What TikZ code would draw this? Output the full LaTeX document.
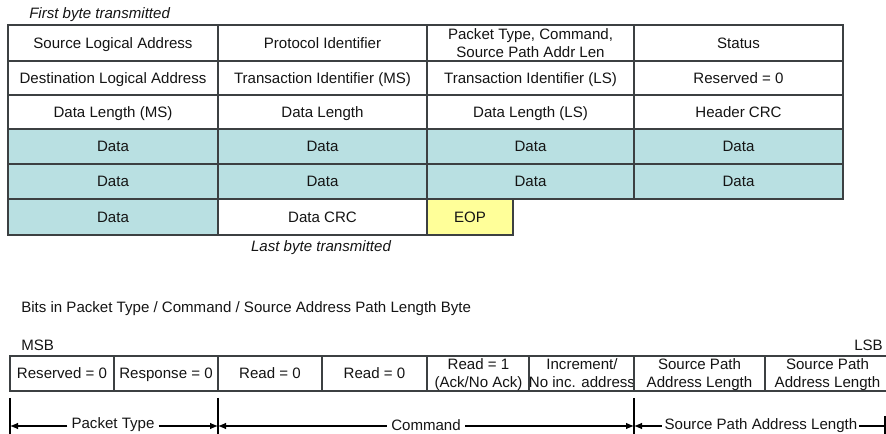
\documentclass[tikz,border=0pt]{standalone}
\usepackage{fontspec}
\setmainfont{Liberation Sans}
\usetikzlibrary{arrows.meta}
\definecolor{datateal}{RGB}{185,224,226}
\definecolor{eopyellow}{RGB}{255,255,153}
\definecolor{gridline}{RGB}{60,64,66}
\definecolor{ink}{RGB}{20,20,20}
% strut that keeps capitals centred in a cell
\newcommand\cs{\rule[-2.4pt]{0pt}{12.7pt}}
% cell: name, x1, y1, x2, y2 (pixel grid), fill, text
\newcommand\tcell[7]{%
  \node[cellbox,fill=#6,
        minimum width={(#4-#2)*0.75pt},
        minimum height={(#5-#3)*0.75pt}]
    (#1) at ({(#2+#4)/2},{(#3+#5)/2}) {\cs#7\cs};}
\newcommand\bcell[6]{%
  \node[bitbox,fill=white,
        minimum width={(#3-#2)*0.75pt},
        minimum height={(#5-#4)*0.75pt}]
    (#1) at ({(#2+#3)/2},{(#4+#5)/2}) {\cs#6\cs};}
\begin{document}
\begin{tikzpicture}[x=0.75pt,y=-0.75pt,
  every node/.style={text=ink,font=\fontsize{11.3}{13.5}\selectfont},
  cellbox/.style={draw=gridline,line width=1.1pt,inner sep=0pt,align=center},
  bitbox/.style={draw=gridline,line width=0.9pt,inner sep=0pt,align=center},
  caption/.style={font=\fontsize{11.3}{13.5}\selectfont\itshape,inner sep=0pt},
  plain/.style={inner sep=0pt},
  span/.style={line width=0.8pt,draw=black,-{Latex[length=6pt,width=5pt]}},
  tick/.style={line width=0.8pt,draw=black}]
\useasboundingbox (0,0) rectangle (886,434);

% ---- packet layout ----
\node[caption,anchor=west] (first) at (29,15) {First byte transmitted};

\tcell{a1}{8}{25}{218}{61}{white}{Source Logical Address}
\tcell{a2}{218}{25}{427}{61}{white}{Protocol Identifier}
\tcell{a3}{427}{25}{634}{61}{white}{\fontsize{11.3}{15}\selectfont Packet Type, Command,\\Source Path Addr Len}
\tcell{a4}{634}{25}{843}{61}{white}{Status}

\tcell{b1}{8}{61}{218}{95}{white}{Destination Logical Address}
\tcell{b2}{218}{61}{427}{95}{white}{Transaction Identifier (MS)}
\tcell{b3}{427}{61}{634}{95}{white}{Transaction Identifier (LS)}
\tcell{b4}{634}{61}{843}{95}{white}{Reserved = 0}

\tcell{c1}{8}{95}{218}{129}{white}{Data Length (MS)}
\tcell{c2}{218}{95}{427}{129}{white}{Data Length}
\tcell{c3}{427}{95}{634}{129}{white}{Data Length (LS)}
\tcell{c4}{634}{95}{843}{129}{white}{Header CRC}

\tcell{d1}{8}{129}{218}{164}{datateal}{Data}
\tcell{d2}{218}{129}{427}{164}{datateal}{Data}
\tcell{d3}{427}{129}{634}{164}{datateal}{Data}
\tcell{d4}{634}{129}{843}{164}{datateal}{Data}

\tcell{e1}{8}{164}{218}{199}{datateal}{Data}
\tcell{e2}{218}{164}{427}{199}{datateal}{Data}
\tcell{e3}{427}{164}{634}{199}{datateal}{Data}
\tcell{e4}{634}{164}{843}{199}{datateal}{Data}

\tcell{f1}{8}{199}{218}{235}{datateal}{Data}
\tcell{f2}{218}{199}{427}{235}{white}{Data CRC}
\tcell{f3}{427}{199}{513}{235}{eopyellow}{EOP}

\node[caption] (last) at (321,248) {Last byte transmitted};

% ---- bit layout of the type/command byte ----
\node[plain,anchor=west] (bitstitle) at (21,309)
  {Bits in Packet Type / Command / Source Address Path Length Byte};
\node[plain,anchor=west] (msb) at (21,345) {MSB};
\node[plain,anchor=east] (lsb) at (883,345) {LSB};

\bcell{k7}{10}{114}{356}{391}{Reserved = 0}
\bcell{k6}{114}{218}{356}{391}{Response = 0}
\bcell{k5}{218}{322}{356}{391}{Read = 0}
\bcell{k4}{322}{427}{356}{391}{Read = 0}
\bcell{k3}{427}{530}{356}{391}{Read = 1\\(Ack/No Ack)}
\bcell{k2}{530}{634}{356}{391}{Increment/\\No inc. address}
\bcell{k1}{634}{765}{356}{391}{Source Path\\Address Length}
\bcell{k0}{765}{890}{356}{391}{Source Path\\Address Length}

% field boundaries
\coordinate (t0top) at (10,398);  \coordinate (t0bot) at (10,434);
\coordinate (t1top) at (218,398); \coordinate (t1bot) at (218,434);
\coordinate (t2top) at (634,398); \coordinate (t2bot) at (634,434);
\coordinate (t3top) at (885,416); \coordinate (t3bot) at (885,434);
\draw[tick] (t0top) -- (t0bot);
\draw[tick] (t1top) -- (t1bot);
\draw[tick] (t2top) -- (t2bot);
\draw[tick] (t3top) -- (t3bot);

% field spans
\node[plain] (ptype) at (113,423) {\cs Packet Type\cs};
\node[plain] (cmd) at (426,425) {\cs Command\cs};
\node[plain] (spal) at (761,424) {\cs Source Path Address Length\cs};
\coordinate (p0) at (10,426);  \coordinate (p1) at (218,426);
\coordinate (q0) at (218,426); \coordinate (q1) at (634,426);
\coordinate (r0) at (634,426); \coordinate (r1) at (885,426);
\draw[span] ([xshift=-3pt]ptype.west |- p0) -- (p0);
\draw[span] ([xshift=3pt]ptype.east |- p1) -- (p1);
\draw[span] ([xshift=-3pt]cmd.west |- q0) -- (q0);
\draw[span] ([xshift=3pt]cmd.east |- q1) -- (q1);
\draw[span] ([xshift=-2pt]spal.west |- r0) -- (r0);
\draw[tick] ([xshift=1pt]spal.east |- r1) -- (r1);
\end{tikzpicture}
\end{document}
